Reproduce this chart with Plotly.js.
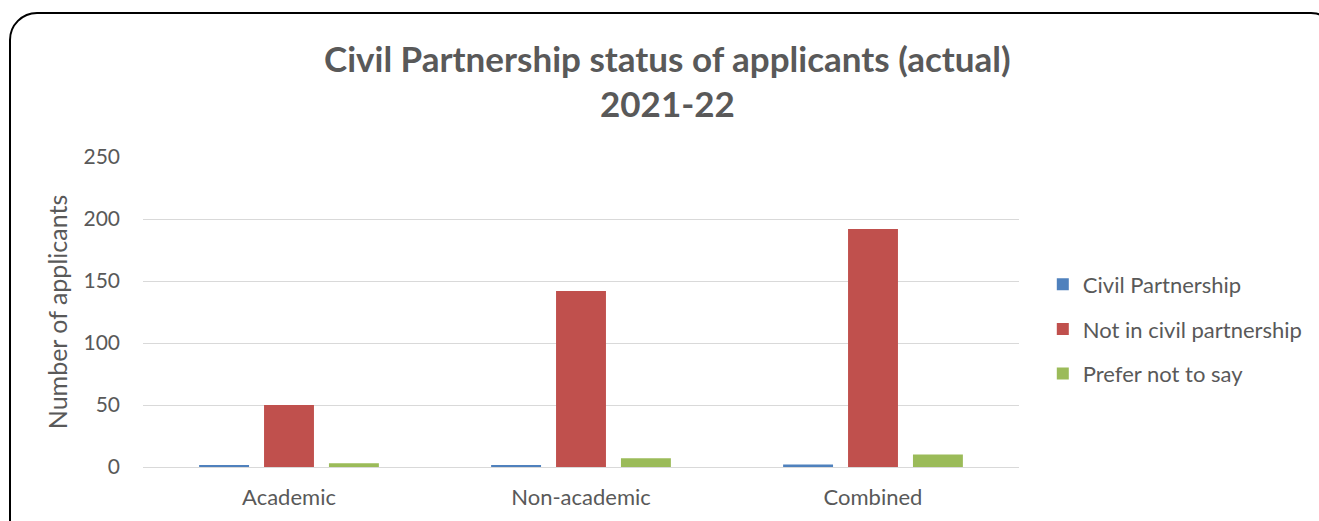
<!DOCTYPE html>
<html>
<head>
<meta charset="utf-8">
<script src="https://cdn.plot.ly/plotly-3.0.1.min.js"></script>
<style>
  html, body { margin:0; padding:0; width:1319px; height:521px; overflow:hidden; background:#fff; }
  #frame { position:absolute; left:9px; top:12px; width:1330px; height:560px; border:2px solid #000; border-radius:28px; box-sizing:border-box; pointer-events:none; z-index:2; }
  #chart { position:absolute; left:0; top:0; width:1319px; height:521px; z-index:1; }
</style>
</head>
<body>
<div id="chart"></div>
<div id="frame"></div>
<script>
const categories = ["Academic", "Non-academic", "Combined"];
const seriesNames = ["Civil Partnership", "Not in civil partnership", "Prefer not to say"];
const civilPartnership = [1, 1, 2];
const notInCivilPartnership = [50, 142, 192];
const preferNotToSay = [3, 7, 10];
const yTicks = [0, 50, 100, 150, 200, 250];
const titleLines = ["Civil Partnership status of applicants (actual)", "2021-22"];

const colors = ["#4f81bd", "#c0504d", "#9bbb59"];
const values = [civilPartnership, notInCivilPartnership, preferNotToSay];
const FONT = "Lato, 'Open Sans', sans-serif";

const traces = values.map((v, i) => ({
  type: "bar",
  name: seriesNames[i],
  legendgroup: "g" + i,
  x: categories,
  y: v,
  marker: { color: colors[i], line: { width: 0 } },
  hoverinfo: "x+y+name"
}));

const layout = {
  width: 1319, height: 521,
  paper_bgcolor: "rgba(0,0,0,0)",
  plot_bgcolor: "rgba(0,0,0,0)",
  margin: { l: 143, r: 299, t: 157, b: 54 },
  barmode: "group",
  bargap: 0.333,
  bargroupgap: 0.231,
  font: { family: FONT, color: "#595959", size: 18 },
  annotations: [
    { text: "<b>" + titleLines[0] + "</b>", xref: "paper", yref: "paper", x: 0.599, y: 1.319,
      xanchor: "center", yanchor: "middle", showarrow: false, font: { family: FONT, size: 35, color: "#595959" } },
    { text: "<b>" + titleLines[1] + "</b>", xref: "paper", yref: "paper", x: 0.599, y: 1.174,
      xanchor: "center", yanchor: "middle", showarrow: false, font: { family: FONT, size: 35, color: "#595959" } }
  ],
  xaxis: {
    type: "category",
    showgrid: false,
    showline: false,
    ticks: "",
    tickfont: { family: FONT, size: 22, color: "#595959" },
    ticklabelstandoff: 15
  },
  yaxis: {
    range: [0, 250],
    tickvals: yTicks,
    ticktext: yTicks.map(String),
    showgrid: true,
    gridcolor: "#d9d9d9",
    gridwidth: 1,
    zeroline: true,
    zerolinecolor: "#d9d9d9",
    zerolinewidth: 1,
    showline: false,
    ticks: "",
    ticklabelstandoff: 22,
    tickfont: { family: FONT, size: 21, color: "#595959" },
    title: { text: "Number of applicants", font: { family: FONT, size: 25, color: "#595959" }, standoff: 8 }
  },
  legend: {
    x: 1.026, xanchor: "left",
    y: 0.445, yanchor: "middle",
    font: { family: FONT, size: 22, color: "#595959" },
    tracegroupgap: 13,
    itemwidth: 30,
    bgcolor: "rgba(0,0,0,0)"
  },
  showlegend: true
};

Plotly.newPlot("chart", traces, layout, { displayModeBar: false, responsive: false });
</script>
</body>
</html>
